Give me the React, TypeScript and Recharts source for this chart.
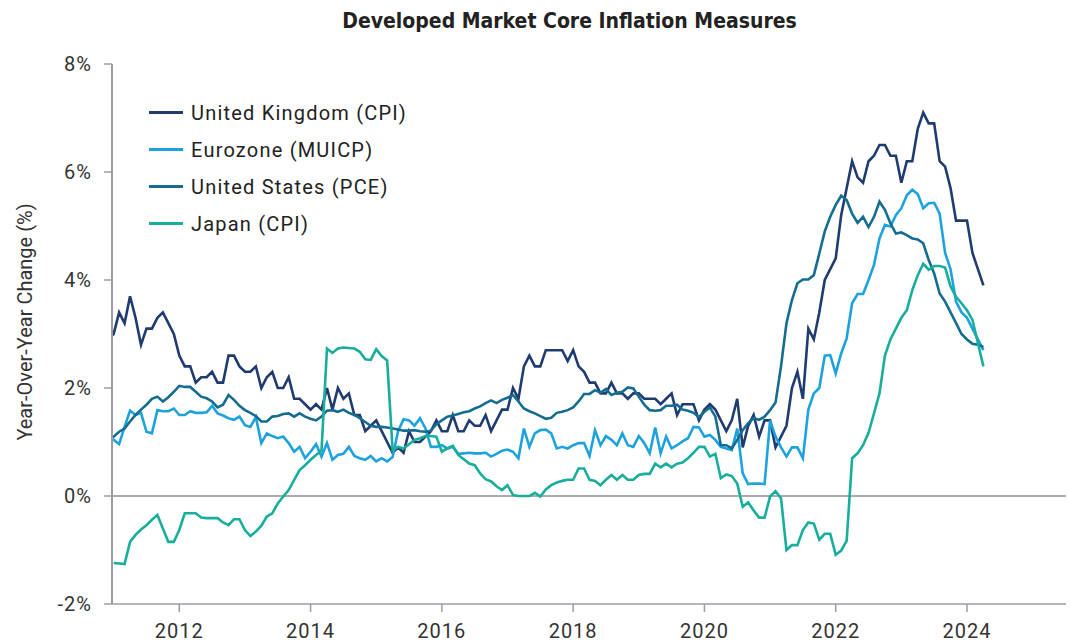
import { LineChart, Line, XAxis, YAxis, ReferenceLine, Legend } from "recharts";

// monthly readings, first point is Dec 2010, last is Apr 2024
const ukCpi = [
  2.9,
  3.0, 3.4, 3.2, 3.7, 3.3, 2.8, 3.1, 3.1, 3.3, 3.4, 3.2, 3.0, // 2011
  2.6, 2.4, 2.4, 2.1, 2.2, 2.2, 2.3, 2.1, 2.1, 2.6, 2.6, 2.4, // 2012
  2.3, 2.3, 2.4, 2.0, 2.2, 2.3, 2.0, 2.0, 2.2, 1.8, 1.8, 1.7, // 2013
  1.6, 1.7, 1.6, 2.0, 1.6, 2.0, 1.8, 1.9, 1.5, 1.5, 1.2, 1.3, // 2014
  1.4, 1.2, 1.0, 0.8, 0.9, 0.8, 1.2, 1.0, 1.0, 1.1, 1.2, 1.4, // 2015
  1.2, 1.2, 1.5, 1.2, 1.2, 1.4, 1.3, 1.3, 1.5, 1.2, 1.4, 1.6, // 2016
  1.6, 2.0, 1.8, 2.4, 2.6, 2.4, 2.4, 2.7, 2.7, 2.7, 2.7, 2.5, // 2017
  2.7, 2.4, 2.3, 2.1, 2.1, 1.9, 1.9, 2.1, 1.9, 1.9, 1.8, 1.9, // 2018
  1.9, 1.8, 1.8, 1.8, 1.7, 1.8, 1.9, 1.5, 1.7, 1.7, 1.7, 1.4, // 2019
  1.6, 1.7, 1.6, 1.4, 1.2, 1.4, 1.8, 0.9, 1.3, 1.5, 1.1, 1.4, // 2020
  1.4, 0.9, 1.1, 1.3, 2.0, 2.3, 1.8, 3.1, 2.9, 3.4, 4.0, 4.2, // 2021
  4.4, 5.2, 5.7, 6.2, 5.9, 5.8, 6.2, 6.3, 6.5, 6.5, 6.3, 6.3, // 2022
  5.8, 6.2, 6.2, 6.8, 7.1, 6.9, 6.9, 6.2, 6.1, 5.7, 5.1, 5.1, // 2023
  5.1, 4.5, 4.2, 3.9, // 2024
];

const ezMuicp = [
  1.05,
  1.04, 0.96, 1.28, 1.58, 1.5, 1.54, 1.19, 1.16, 1.59, 1.57, 1.57, 1.62,
  1.5, 1.5, 1.57, 1.54, 1.54, 1.55, 1.67, 1.53, 1.49, 1.44, 1.41, 1.47,
  1.31, 1.28, 1.46, 0.98, 1.16, 1.11, 1.07, 1.1, 0.98, 0.82, 0.91, 0.7,
  0.82, 0.96, 0.73, 0.98, 0.67, 0.76, 0.78, 0.91, 0.74, 0.7, 0.67, 0.74,
  0.64, 0.7, 0.64, 0.72, 1.2, 1.42, 1.4, 1.3, 1.44, 1.25, 0.91, 0.91,
  0.94, 0.88, 0.91, 0.78, 0.79, 0.8, 0.79, 0.79, 0.8, 0.73, 0.78, 0.84,
  0.86, 0.82, 0.7, 1.25, 0.91, 1.16, 1.22, 1.23, 1.16, 0.88, 0.91, 0.88,
  0.94, 0.98, 0.98, 0.74, 1.22, 0.94, 1.11, 1.04, 0.94, 1.16, 0.94, 0.91,
  1.11, 0.98, 0.79, 1.27, 0.79, 1.1, 0.88, 0.94, 1.01, 1.07, 1.28, 1.27,
  1.1, 1.13, 1.04, 0.91, 0.88, 0.85, 1.25, 0.42, 0.22, 0.23, 0.23, 0.22,
  1.4, 1.1, 0.9, 0.73, 0.9, 0.9, 0.7, 1.6, 1.9, 2.0, 2.6, 2.61,
  2.27, 2.64, 2.92, 3.57, 3.74, 3.74, 4.0, 4.28, 4.77, 5.02, 4.99, 5.2,
  5.33, 5.57, 5.67, 5.59, 5.33, 5.42, 5.43, 5.23, 4.5, 4.2, 3.6, 3.4,
  3.3, 3.1, 2.9, 2.7,
];

const usPce = [
  1.05,
  1.1, 1.19, 1.25, 1.38, 1.5, 1.6, 1.69, 1.8, 1.84, 1.75, 1.83, 1.93,
  2.04, 2.02, 2.02, 1.93, 1.84, 1.81, 1.75, 1.64, 1.69, 1.87, 1.78, 1.67,
  1.59, 1.54, 1.48, 1.38, 1.38, 1.47, 1.48, 1.52, 1.53, 1.47, 1.53, 1.47,
  1.43, 1.4, 1.47, 1.58, 1.59, 1.56, 1.6, 1.54, 1.5, 1.44, 1.37, 1.3,
  1.28, 1.28, 1.27, 1.25, 1.23, 1.21, 1.21, 1.22, 1.2, 1.19, 1.21, 1.33,
  1.4, 1.47, 1.49, 1.52, 1.55, 1.57, 1.62, 1.66, 1.72, 1.77, 1.72, 1.78,
  1.82, 1.87, 1.75, 1.62, 1.57, 1.53, 1.48, 1.43, 1.45, 1.54, 1.56, 1.59,
  1.64, 1.75, 1.89, 1.89, 1.96, 1.91, 1.98, 1.87, 1.91, 1.93, 2.01, 1.99,
  1.84, 1.69, 1.59, 1.58, 1.59, 1.67, 1.67, 1.69, 1.6, 1.58, 1.54, 1.46,
  1.56, 1.64, 1.47, 0.94, 0.94, 0.88, 1.04, 1.22, 1.35, 1.44, 1.41, 1.47,
  1.59, 1.73, 2.4, 3.2, 3.63, 3.94, 4.01, 4.01, 4.09, 4.49, 4.9, 5.17,
  5.39, 5.56, 5.48, 5.23, 5.06, 5.17, 4.98, 5.17, 5.45, 5.3, 5.05, 4.86,
  4.88, 4.83, 4.77, 4.75, 4.68, 4.37, 4.12, 3.75, 3.6, 3.4, 3.2, 3.0,
  2.9, 2.82, 2.8, 2.76,
];

const japanCpi = [
  null,
  -1.24, -1.25, -1.26, -0.85, -0.72, -0.62, -0.54, -0.44, -0.35, -0.6, -0.85, -0.85,
  -0.63, -0.32, -0.32, -0.32, -0.4, -0.41, -0.41, -0.41, -0.49, -0.54, -0.43, -0.43,
  -0.63, -0.74, -0.66, -0.55, -0.38, -0.32, -0.14, -0.01, 0.11, 0.3, 0.48, 0.57,
  0.67, 0.76, 0.84, 2.73, 2.65, 2.73, 2.75, 2.74, 2.73, 2.67, 2.53, 2.52,
  2.72, 2.59, 2.51, 0.85, 0.91, 0.88, 0.96, 1.04, 1.07, 1.11, 1.11, 1.1,
  0.82, 0.88, 0.93, 0.76, 0.68, 0.6, 0.57, 0.42, 0.31, 0.27, 0.18, 0.11,
  0.2, 0.02, 0.0, 0.0, 0.0, 0.06, -0.01, 0.12, 0.2, 0.25, 0.28, 0.3,
  0.3, 0.51, 0.51, 0.3, 0.28, 0.2, 0.3, 0.39, 0.3, 0.39, 0.3, 0.3,
  0.39, 0.41, 0.41, 0.6, 0.53, 0.6, 0.53, 0.6, 0.62, 0.7, 0.8, 0.91,
  0.91, 0.73, 0.78, 0.33, 0.4, 0.37, 0.23, -0.2, -0.12, -0.27, -0.4, -0.4,
  -0.01, 0.09, -0.04, -1.0, -0.91, -0.91, -0.63, -0.49, -0.51, -0.81, -0.7, -0.7,
  -1.09, -1.01, -0.83, 0.7, 0.79, 0.94, 1.17, 1.53, 1.9, 2.6, 2.9, 3.1,
  3.3, 3.44, 3.81, 4.09, 4.3, 4.19, 4.26, 4.26, 4.23, 3.88, 3.69, 3.57,
  3.44, 3.26, 2.83, 2.4,
];

// month index of each January tick (0 = Dec 2010)
const yearTicks = [13, 37, 61, 85, 109, 133, 157];
const yearLabels = ["2012", "2014", "2016", "2018", "2020", "2022", "2024"];
const pctTicks = [-2, 0, 2, 4, 6, 8];

const series = [
  { key: "uk", name: "United Kingdom (CPI)", color: "#1f3b70" },
  { key: "ez", name: "Eurozone (MUICP)", color: "#1ea2de" },
  { key: "us", name: "United States (PCE)", color: "#146d90" },
  { key: "jp", name: "Japan (CPI)", color: "#19ad9c" },
];

const data = ukCpi.map((v, i) => ({
  month: i,
  uk: v,
  ez: ezMuicp[i],
  us: usPce[i],
  jp: japanCpi[i],
}));

const font = "Roboto, 'DejaVu Sans', sans-serif";
const axisGrey = "#9c9ca4";
const tickStyle = { fill: "#333", fontSize: 20, fontFamily: font, letterSpacing: 1 };

// legend keeps the series order instead of sorting by name
const LegendList = () => (
  <div style={{ fontFamily: font, fontSize: 20, color: "#222", letterSpacing: 1.2 }}>
    {series.map((s) => (
      <div key={s.key} style={{ display: "flex", alignItems: "center", height: 37 }}>
        <span style={{ display: "inline-block", width: 34, height: 3, background: s.color, marginRight: 8 }} />
        {s.name}
      </div>
    ))}
  </div>
);

const YLabel = () => (
  <text
    x={25}
    y={322}
    transform="rotate(-90 25 322)"
    textAnchor="middle"
    dominantBaseline="central"
    fill="#333"
    style={{ fontFamily: font, fontSize: 20 }}
  >
    Year-Over-Year Change (%)
  </text>
);

export default function App() {
  return (
    <div style={{ position: "relative", width: 1070, height: 643, background: "#fff" }}>
      <style>{"body{margin:0}"}</style>
      <div
        style={{
          position: "absolute",
          top: 9,
          left: 0,
          width: 1139,
          textAlign: "center",
          fontFamily: "'DejaVu Sans Condensed', 'DejaVu Sans', sans-serif",
          fontWeight: "bold",
          fontSize: 21,
          color: "#222",
        }}
      >
        Developed Market Core Inflation Measures
      </div>
      <LineChart width={1070} height={643} data={data} margin={{ top: 64, right: 4, bottom: 0, left: 0 }}>
        <XAxis
          dataKey="month"
          type="number"
          domain={[0.7, 175.1]}
          allowDataOverflow
          ticks={yearTicks}
          tickFormatter={(v) => yearLabels[yearTicks.indexOf(v)]}
          height={39}
          tickSize={8}
          tickMargin={12}
          axisLine={{ stroke: axisGrey, strokeWidth: 1.5 }}
          tickLine={{ stroke: axisGrey, strokeWidth: 1.5 }}
          tick={tickStyle}
        />
        <YAxis
          width={112}
          domain={[-2, 8]}
          ticks={pctTicks}
          tickFormatter={(v) => `${v}%`}
          tickSize={8}
          tickMargin={12}
          axisLine={{ stroke: axisGrey, strokeWidth: 2 }}
          tickLine={{ stroke: axisGrey, strokeWidth: 1.5 }}
          tick={tickStyle}
          label={{ content: () => <YLabel /> }}
        />
        <ReferenceLine y={0} stroke="#8e8e96" strokeWidth={1.5} />
        <Legend
          layout="horizontal"
          verticalAlign="middle"
          align="center"
          content={<LegendList />}
          wrapperStyle={{ top: 94, left: 149, width: 340, height: 150 }}
        />
        {series.map((s) => (
          <Line
            key={s.key}
            type="linear"
            dataKey={s.key}
            name={s.name}
            stroke={s.color}
            strokeWidth={2.6}
            dot={false}
            legendType="plainline"
            isAnimationActive={false}
          />
        ))}
      </LineChart>
    </div>
  );
}
